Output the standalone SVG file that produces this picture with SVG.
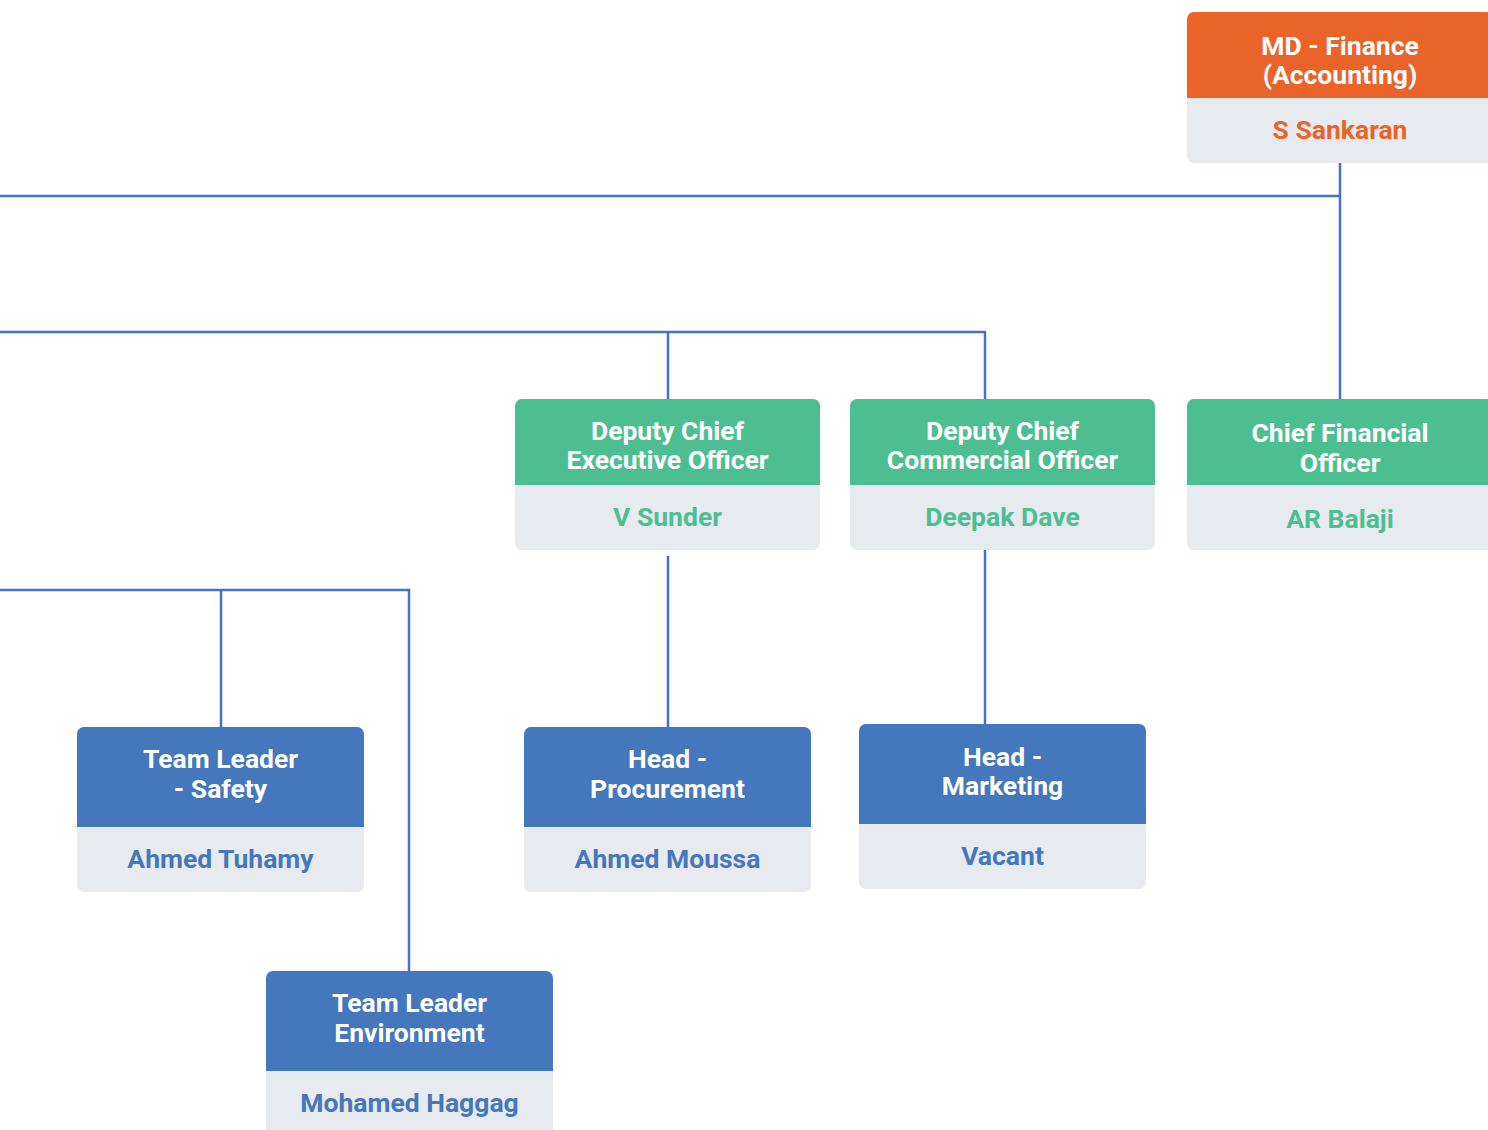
<svg xmlns="http://www.w3.org/2000/svg" width="1488" height="1130" viewBox="0 0 1488 1130">
  <style>
    .body { fill: #E7EAEF; }
    .orange { fill: #EA6429; }
    .green { fill: #4DBE92; }
    .blue { fill: #4477BC; }
    .title { font-family: Roboto, "Liberation Sans", sans-serif; font-weight: 700; font-size: 26.5px; fill: #FFFFFF; text-anchor: middle; }
    .name { font-family: Roboto, "Liberation Sans", sans-serif; font-weight: 700; font-size: 26.5px; text-anchor: middle; }
    .n-orange { fill: #EA6429; }
    .n-green { fill: #4DBE92; }
    .n-blue { fill: #4477BC; }
    .link { fill: none; stroke: #4472C4; stroke-width: 2.5; }
  </style>
  <rect width="1488" height="1130" fill="#FFFFFF"/>

  <g id="connectors">
    <path class="link" d="M0 196 H1340 M1340 163 V399"/>
    <path class="link" d="M0 332 H985 V399 M668 332 V399"/>
    <path class="link" d="M668 556 V727"/>
    <path class="link" d="M985 550 V724"/>
    <path class="link" d="M0 590 H409 V971 M221 590 V727"/>
  </g>

  <g id="md-finance">
    <rect class="body" x="1187" y="12" width="306" height="151" rx="7"/>
    <path class="orange" d="M1187 98 V19 a7 7 0 0 1 7 -7 H1486 a7 7 0 0 1 7 7 V98 Z"/>
    <text class="title" x="1340" y="55">MD - Finance</text>
    <text class="title" x="1340" y="84">(Accounting)</text>
    <text class="name n-orange" x="1340" y="139">S Sankaran</text>
  </g>

  <g id="dceo">
    <rect class="body" x="515" y="399" width="305" height="151" rx="7"/>
    <path class="green" d="M515 485 V406 a7 7 0 0 1 7 -7 H813 a7 7 0 0 1 7 7 V485 Z"/>
    <text class="title" x="667.5" y="440">Deputy Chief</text>
    <text class="title" x="667.5" y="469">Executive Officer</text>
    <text class="name n-green" x="667.5" y="526">V Sunder</text>
  </g>

  <g id="dcco">
    <rect class="body" x="850" y="399" width="305" height="151" rx="7"/>
    <path class="green" d="M850 485 V406 a7 7 0 0 1 7 -7 H1148 a7 7 0 0 1 7 7 V485 Z"/>
    <text class="title" x="1002.5" y="440">Deputy Chief</text>
    <text class="title" x="1002.5" y="469">Commercial Officer</text>
    <text class="name n-green" x="1002.5" y="526">Deepak Dave</text>
  </g>

  <g id="cfo">
    <rect class="body" x="1187" y="399" width="306" height="151" rx="7"/>
    <path class="green" d="M1187 485 V406 a7 7 0 0 1 7 -7 H1486 a7 7 0 0 1 7 7 V485 Z"/>
    <text class="title" x="1340" y="442">Chief Financial</text>
    <text class="title" x="1340" y="472">Officer</text>
    <text class="name n-green" x="1340" y="528">AR Balaji</text>
  </g>

  <g id="tl-safety">
    <rect class="body" x="77" y="727" width="287" height="165" rx="7"/>
    <path class="blue" d="M77 827 V734 a7 7 0 0 1 7 -7 H357 a7 7 0 0 1 7 7 V827 Z"/>
    <text class="title" x="220.5" y="768">Team Leader</text>
    <text class="title" x="220.5" y="798">- Safety</text>
    <text class="name n-blue" x="220.5" y="868">Ahmed Tuhamy</text>
  </g>

  <g id="head-procurement">
    <rect class="body" x="524" y="727" width="287" height="165" rx="7"/>
    <path class="blue" d="M524 827 V734 a7 7 0 0 1 7 -7 H804 a7 7 0 0 1 7 7 V827 Z"/>
    <text class="title" x="667.5" y="768">Head -</text>
    <text class="title" x="667.5" y="798">Procurement</text>
    <text class="name n-blue" x="667.5" y="868">Ahmed Moussa</text>
  </g>

  <g id="head-marketing">
    <rect class="body" x="859" y="724" width="287" height="165" rx="7"/>
    <path class="blue" d="M859 824 V731 a7 7 0 0 1 7 -7 H1139 a7 7 0 0 1 7 7 V824 Z"/>
    <text class="title" x="1002.5" y="766">Head -</text>
    <text class="title" x="1002.5" y="795">Marketing</text>
    <text class="name n-blue" x="1002.5" y="865">Vacant</text>
  </g>

  <g id="tl-environment">
    <rect class="body" x="266" y="971" width="287" height="175" rx="7"/>
    <path class="blue" d="M266 1071 V978 a7 7 0 0 1 7 -7 H546 a7 7 0 0 1 7 7 V1071 Z"/>
    <text class="title" x="409.5" y="1012">Team Leader</text>
    <text class="title" x="409.5" y="1042">Environment</text>
    <text class="name n-blue" x="409.5" y="1112">Mohamed Haggag</text>
  </g>
</svg>
